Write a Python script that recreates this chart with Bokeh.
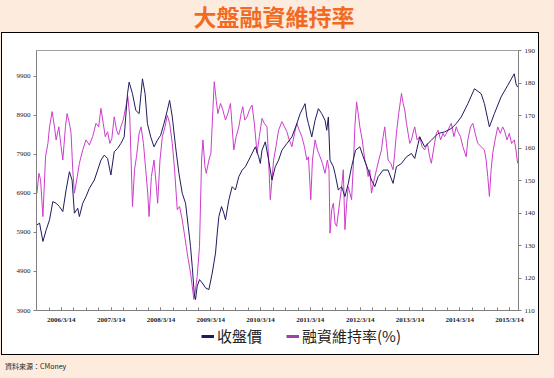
import pandas as pd
from bokeh.plotting import figure
from bokeh.layouts import column
from bokeh.models import (Range1d, LinearAxis, FixedTicker, Legend, LegendItem,
                          ColumnDataSource, Div)
from bokeh.embed import file_html
from bokeh.resources import INLINE

title_text = "大盤融資維持率"
source_text = "資料來源：CMoney"
series_names = ["收盤價", "融資維持率(%)"]

# dates as decimal years
index_year = [2005.707, 2005.760, 2005.827, 2005.893, 2005.960, 2006.027, 2006.093, 2006.160,
              2006.227, 2006.293, 2006.360, 2006.413, 2006.460, 2006.527, 2006.560, 2006.627,
              2006.693, 2006.760, 2006.860, 2006.927, 2006.993, 2007.060, 2007.127, 2007.193,
              2007.260, 2007.327, 2007.393, 2007.460, 2007.527, 2007.560, 2007.627, 2007.693,
              2007.760, 2007.827, 2007.880, 2007.927, 2007.993, 2008.060, 2008.127, 2008.193,
              2008.260, 2008.327, 2008.373, 2008.427, 2008.493, 2008.560, 2008.627, 2008.693,
              2008.747, 2008.793, 2008.827, 2008.867, 2008.893, 2008.927, 2008.973, 2009.027,
              2009.093, 2009.160, 2009.227, 2009.293, 2009.327, 2009.360, 2009.413, 2009.460,
              2009.493, 2009.560, 2009.627, 2009.693, 2009.760, 2009.827, 2009.893, 2009.960,
              2010.027, 2010.093, 2010.160, 2010.193, 2010.227, 2010.293, 2010.360, 2010.427,
              2010.493, 2010.560, 2010.627, 2010.727, 2010.827, 2010.927, 2010.993, 2011.093,
              2011.127, 2011.160, 2011.227, 2011.293, 2011.360, 2011.427, 2011.493, 2011.527,
              2011.560, 2011.593, 2011.660, 2011.693, 2011.760, 2011.827, 2011.893, 2011.960,
              2012.027, 2012.107, 2012.193, 2012.260, 2012.360, 2012.427, 2012.493, 2012.560,
              2012.660, 2012.760, 2012.860, 2012.927, 2013.027, 2013.127, 2013.227, 2013.293,
              2013.393, 2013.493, 2013.627, 2013.760, 2013.893, 2014.027, 2014.127, 2014.227,
              2014.360, 2014.493, 2014.627, 2014.693, 2014.793, 2014.893, 2015.027, 2015.160,
              2015.293, 2015.327, 2015.360]
index_close = [6094, 6137, 5669, 5967, 6222, 6689, 6647, 6562,
               6434, 6987, 7455, 7242, 6392, 6519, 6307, 6647,
               6817, 7029, 7242, 7497, 7752, 7880, 7795, 7370,
               7965, 8050, 8177, 8347, 9453, 9750, 9453, 9028,
               8943, 9835, 9453, 8688, 8347, 8092, 8262, 8390,
               8688, 9028, 9283, 8857, 8092, 7412, 6902, 6647,
               6052, 5541, 5031, 4351, 4181, 4521, 4691, 4606,
               4479, 4436, 4861, 5371, 5881, 6307, 6562, 6392,
               6222, 6732, 7072, 6987, 7327, 7497, 7582, 7752,
               7922, 8092, 7837, 7667, 8007, 8220, 7752, 7242,
               7582, 7752, 8007, 8177, 8347, 8688, 8943, 9198,
               8857, 8688, 8347, 8773, 9070, 8943, 8773, 8517,
               8857, 7752, 7582, 7412, 6987, 7072, 6817, 7157,
               7582, 8007, 8092, 7837, 7497, 7242, 7072, 7327,
               7497, 7497, 7157, 7582, 7667, 7837, 7922, 7795,
               8347, 8092, 8262, 8432, 8475, 8560, 8688, 8857,
               9198, 9580, 9453, 9198, 8602, 8943, 9368, 9665,
               9963, 9708, 9623]

ratio_year = [2005.707, 2005.747, 2005.780, 2005.827, 2005.880, 2005.927, 2005.960, 2006.013,
              2006.060, 2006.093, 2006.147, 2006.193, 2006.227, 2006.280, 2006.313, 2006.360,
              2006.393, 2006.427, 2006.460, 2006.507, 2006.560, 2006.627, 2006.693, 2006.760,
              2006.827, 2006.893, 2006.947, 2006.993, 2007.040, 2007.080, 2007.127, 2007.173,
              2007.213, 2007.260, 2007.307, 2007.347, 2007.393, 2007.440, 2007.493, 2007.533,
              2007.573, 2007.627, 2007.667, 2007.707, 2007.760, 2007.800, 2007.847, 2007.893,
              2007.933, 2007.960, 2008.007, 2008.060, 2008.107, 2008.133, 2008.180, 2008.227,
              2008.280, 2008.327, 2008.373, 2008.427, 2008.473, 2008.527, 2008.573, 2008.627,
              2008.667, 2008.707, 2008.747, 2008.793, 2008.827, 2008.860, 2008.893, 2008.927,
              2008.973, 2009.013, 2009.040, 2009.080, 2009.107, 2009.160, 2009.200, 2009.240,
              2009.267, 2009.307, 2009.340, 2009.393, 2009.440, 2009.493, 2009.540, 2009.593,
              2009.627, 2009.660, 2009.707, 2009.760, 2009.807, 2009.840, 2009.880, 2009.927,
              2009.973, 2010.027, 2010.073, 2010.127, 2010.173, 2010.227, 2010.273, 2010.327,
              2010.360, 2010.393, 2010.460, 2010.507, 2010.560, 2010.627, 2010.680, 2010.727,
              2010.773, 2010.827, 2010.880, 2010.927, 2010.973, 2011.027, 2011.080, 2011.127,
              2011.160, 2011.207, 2011.240, 2011.293, 2011.340, 2011.393, 2011.440, 2011.493,
              2011.540, 2011.573, 2011.593, 2011.627, 2011.660, 2011.693, 2011.727, 2011.760,
              2011.793, 2011.827, 2011.860, 2011.893, 2011.927, 2011.960, 2011.993, 2012.027,
              2012.067, 2012.093, 2012.127, 2012.160, 2012.193, 2012.240, 2012.293, 2012.327,
              2012.360, 2012.393, 2012.427, 2012.480, 2012.527, 2012.573, 2012.627, 2012.660,
              2012.693, 2012.727, 2012.760, 2012.813, 2012.860, 2012.893, 2012.927, 2012.973,
              2013.027, 2013.060, 2013.093, 2013.127, 2013.160, 2013.193, 2013.227, 2013.273,
              2013.293, 2013.340, 2013.393, 2013.440, 2013.493, 2013.547, 2013.593, 2013.627,
              2013.680, 2013.727, 2013.760, 2013.813, 2013.860, 2013.893, 2013.960, 2014.027,
              2014.080, 2014.127, 2014.160, 2014.213, 2014.260, 2014.327, 2014.360, 2014.413,
              2014.460, 2014.507, 2014.560, 2014.627, 2014.693, 2014.727, 2014.760, 2014.793,
              2014.827, 2014.860, 2014.907, 2014.960, 2015.013, 2015.060, 2015.093, 2015.147,
              2015.193, 2015.240, 2015.293, 2015.327, 2015.360]
ratio_values = [146.1, 152.2, 150.2, 138.9, 157.3, 161.4, 166.5, 171.2,
                166.5, 162.5, 166.5, 160.4, 156.3, 166.5, 170.6, 167.6,
                164.5, 153.3, 146.1, 150.2, 155.3, 159.4, 162.5, 160.9,
                163.5, 167.6, 166.5, 172.2, 167.6, 163.5, 165.0, 161.4,
                163.0, 169.6, 165.5, 164.0, 166.5, 168.6, 172.7, 175.8,
                169.6, 142.0, 153.3, 157.3, 164.5, 166.5, 161.4, 153.3,
                146.1, 138.9, 151.2, 156.3, 148.1, 143.0, 156.3, 163.5,
                166.5, 170.1, 167.6, 161.4, 153.3, 141.0, 142.0, 137.9,
                133.8, 129.7, 125.7, 121.6, 117.5, 113.4, 116.4, 120.5,
                129.7, 156.3, 162.5, 154.3, 152.2, 156.3, 158.4, 171.7,
                180.4, 174.7, 170.6, 173.7, 171.7, 168.6, 170.6, 173.7,
                166.5, 159.4, 163.5, 166.5, 170.6, 172.7, 168.6, 169.6,
                171.7, 173.2, 167.6, 158.4, 163.5, 169.1, 167.6, 166.5,
                156.3, 144.1, 156.3, 160.4, 165.5, 168.1, 166.5, 165.0,
                162.5, 160.4, 164.5, 167.6, 165.5, 163.5, 160.4, 156.3,
                157.3, 144.1, 156.3, 162.5, 159.4, 157.3, 155.3, 152.2,
                156.3, 153.3, 133.8, 141.0, 143.0, 136.9, 135.9, 140.0,
                144.1, 148.1, 153.3, 134.9, 143.0, 148.1, 146.1, 144.1,
                156.3, 166.5, 174.2, 170.6, 166.5, 162.5, 156.3, 154.3,
                151.2, 153.3, 146.1, 150.2, 153.3, 156.3, 159.4, 163.5,
                166.5, 161.4, 156.3, 155.3, 153.3, 158.4, 164.5, 170.6,
                176.8, 173.7, 171.7, 167.6, 164.5, 161.4, 162.5, 165.5,
                166.5, 162.5, 163.5, 160.4, 159.4, 161.4, 157.3, 155.3,
                160.4, 164.5, 165.5, 162.5, 164.5, 163.5, 165.5, 167.6,
                163.5, 166.5, 165.0, 163.5, 160.4, 157.3, 162.5, 166.5,
                167.6, 164.5, 161.4, 160.4, 159.4, 156.3, 151.2, 145.1,
                153.3, 158.4, 162.5, 166.5, 164.5, 166.5, 165.5, 162.5,
                164.5, 161.4, 162.5, 159.4, 155.3]

tick_dates = ["2006-03-14", "2007-03-14", "2008-03-14", "2009-03-14", "2010-03-14",
              "2011-03-14", "2012-03-14", "2013-03-14", "2014-03-14", "2015-03-14"]
tick_labels = ["2006/3/14", "2007/3/14", "2008/3/14", "2009/3/14", "2010/3/14",
               "2011/3/14", "2012/3/14", "2013/3/14", "2014/3/14", "2015/3/14"]
left_ticks = [3900, 4900, 5900, 6900, 7900, 8900, 9900]
right_ticks = [110, 120, 130, 140, 150, 160, 170, 180, 190]

PEACH = "#FDEBDD"
NAVY = "#1E1B5C"
PURPLE = "#CC3DCC"


def ms(d):
    return pd.Timestamp(d).value // 10**6


def year_to_ms(t):
    y = int(t)
    d = pd.Timestamp(year=y, month=1, day=1) + pd.Timedelta(days=(t - y) * 365.25)
    return d.value // 10**6


p = figure(width=536, height=293, x_axis_type="datetime", output_backend="svg",
           toolbar_location=None, min_border_left=34, min_border_right=18,
           min_border_top=17, min_border_bottom=15,
           x_range=Range1d(ms("2005-09-13"), ms("2015-05-19")),
           y_range=Range1d(3900, 10560))
p.border_fill_color = "white"
p.background_fill_color = "white"
p.outline_line_color = "#A0A0A0"
p.grid.visible = False

p.extra_y_ranges = {"ratio": Range1d(110, 190)}

src_i = ColumnDataSource(dict(x=[year_to_ms(t) for t in index_year], y=index_close))
src_r = ColumnDataSource(dict(x=[year_to_ms(t) for t in ratio_year], y=ratio_values))
p.line("x", "y", source=src_r, line_color=PURPLE, line_width=1.0, y_range_name="ratio")
p.line("x", "y", source=src_i, line_color=NAVY, line_width=1.0)

# x axis
xa = p.xaxis[0]
qticks = [ms(d) for d in pd.date_range("2005-12-01", "2015-03-01", freq="3MS") + pd.Timedelta(days=13)]
xa.ticker = FixedTicker(ticks=[ms(d) for d in tick_dates], minor_ticks=qticks)
xa.major_label_overrides = {ms(d): lab for d, lab in zip(tick_dates, tick_labels)}
xa.axis_line_color = "#808080"
xa.major_tick_in = 3
xa.major_tick_out = 0
xa.minor_tick_in = 3
xa.minor_tick_out = 0
xa.major_tick_line_color = "#808080"
xa.minor_tick_line_color = "#808080"
xa.major_label_text_font = "Liberation Serif"
xa.major_label_text_font_size = "7px"
xa.major_label_text_font_style = "bold"
xa.major_label_text_color = "#222222"
xa.major_label_standoff = 5

ya = p.yaxis[0]
ya.ticker = FixedTicker(ticks=left_ticks)
ya.axis_line_color = "#808080"
ya.major_tick_in = 0
ya.major_tick_out = 3
ya.minor_tick_line_color = None
ya.major_tick_line_color = "#808080"
ya.major_label_text_font = "Liberation Serif"
ya.major_label_text_font_size = "7px"
ya.major_label_text_color = "#222222"
ya.major_label_standoff = 3

ra = LinearAxis(y_range_name="ratio", ticker=FixedTicker(ticks=right_ticks))
ra.axis_line_color = "#808080"
ra.major_tick_in = 0
ra.major_tick_out = 3
ra.minor_tick_line_color = None
ra.major_tick_line_color = "#808080"
ra.major_label_text_font = "Liberation Serif"
ra.major_label_text_font_size = "7px"
ra.major_label_text_color = "#222222"
ra.major_label_standoff = 3
p.add_layout(ra, "right")

# legend strip under the chart (placeholder renderers hold a single NaN point)
nan = float("nan")
lf = figure(width=536, height=28, output_backend="svg", toolbar_location=None,
            min_border=0, x_range=Range1d(0, 1), y_range=Range1d(0, 1))
lf.axis.visible = False
lf.grid.visible = False
lf.outline_line_color = None
lf.border_fill_color = "white"
d1 = lf.line([nan], [nan], line_color=NAVY, line_width=3)
d2 = lf.line([nan], [nan], line_color="#A040A8", line_width=3)
legend = Legend(items=[LegendItem(label=series_names[0], renderers=[d1]),
                       LegendItem(label=series_names[1], renderers=[d2])],
                orientation="horizontal", location=(165, 8),
                background_fill_alpha=0, border_line_color=None,
                padding=0, margin=0, spacing=24, glyph_width=13, glyph_height=16,
                label_standoff=3, label_height=16,
                label_text_font="Noto Sans CJK TC", label_text_font_size="15px",
                label_text_color="#222222")
lf.add_layout(legend)

title_div = Div(text=title_text, width=538, height=22,
                styles={"text-align": "center", "font-family": "Noto Sans CJK TC",
                        "font-weight": "bold", "font-size": "23px", "color": "#F26A22",
                        "line-height": "22px", "width": "538px"})
source_div = Div(text=source_text, width=538, height=12,
                 styles={"font-family": "Noto Sans CJK TC", "font-size": "7px",
                         "color": "#222222", "line-height": "12px"})

box = column(p, lf, spacing=0,
             styles={"border": "1px solid black", "background-color": "white",
                     "margin-left": "1px"})
layout = column(title_div, box, source_div, spacing=0,
                styles={"background-color": PEACH})

html = file_html(layout, INLINE)
html = html.replace("<body>", '<body style="background-color:%s;">' % PEACH)
open("out.html", "w").write(html)
